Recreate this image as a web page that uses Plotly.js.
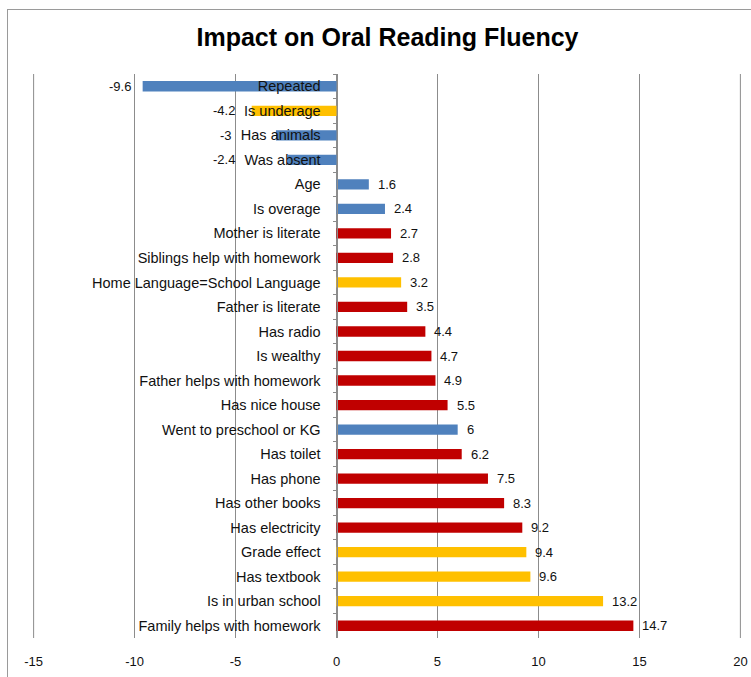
<!DOCTYPE html>
<html>
<head>
<meta charset="utf-8">
<script src="https://cdn.plot.ly/plotly-3.0.1.min.js"></script>
<style>
html,body{margin:0;padding:0;background:#fff;}
#chart{width:751px;height:677px;}
#frame{position:absolute;left:7px;top:9px;width:760px;height:700px;border-left:1px solid #9a9a9a;border-top:1px solid #9a9a9a;pointer-events:none;}
</style>
</head>
<body>
<div id="chart"></div>
<div id="frame"></div>
<script>
// Categories listed top to bottom
const categories = [
  "Repeated", "Is underage", "Has animals", "Was absent", "Age", "Is overage",
  "Mother is literate", "Siblings help with homework", "Home Language=School Language",
  "Father is literate", "Has radio", "Is wealthy", "Father helps with homework",
  "Has nice house", "Went to preschool or KG", "Has toilet", "Has phone",
  "Has other books", "Has electricity", "Grade effect", "Has textbook",
  "Is in urban school", "Family helps with homework"
];
const values = [
  -9.6, -4.2, -3, -2.4, 1.6, 2.4,
  2.7, 2.8, 3.2,
  3.5, 4.4, 4.7, 4.9,
  5.5, 6, 6.2, 7.5,
  8.3, 9.2, 9.4, 9.6,
  13.2, 14.7
];
const groups = [
  "blue", "gold", "blue", "blue", "blue", "blue",
  "red", "red", "gold",
  "red", "red", "red", "red",
  "red", "blue", "red", "red",
  "red", "red", "gold", "gold",
  "gold", "red"
];
const xTicks = [-15, -10, -5, 0, 5, 10, 15, 20];

const palette = {blue: "#4F81BD", gold: "#FFC000", red: "#C00000"};
const FONT = "Liberation Sans, Arial, sans-serif";
const CAT_SIZE = 14.5;
const VAL_SIZE = 13;
const GRID = "#8c8c8c";

const W = 751, H = 677;
const M = {l: 33, r: 10, t: 74, b: 39};
const xRange = [-15.03, 20.03];
const pxPerUnit = (W - M.l - M.r) / (xRange[1] - xRange[0]);
const labelGap = 16; // tick length + standoff

// measure category label widths so negative value labels avoid them
const ctx = document.createElement("canvas").getContext("2d");
ctx.font = CAT_SIZE + "px Liberation Sans";

const annotations = values.map((v, i) => {
  const base = {
    y: categories[i], xref: "x", yref: "y",
    text: String(v), showarrow: false,
    font: {family: FONT, size: VAL_SIZE, color: "#111"}
  };
  if (v >= 0) {
    return Object.assign(base, {x: v, xanchor: "left", xshift: 7});
  }
  const labelStart = -(labelGap + ctx.measureText(categories[i]).width); // px from zero
  const barEnd = v * pxPerUnit;
  if (barEnd < labelStart) {
    return Object.assign(base, {x: v, xanchor: "right", xshift: -10});
  }
  return Object.assign(base, {x: 0, xanchor: "right", xshift: labelStart - 7});
});

// edge gridlines (first and last tick) which Plotly skips at the plot border
const edgeGrid = [xTicks[0], xTicks[xTicks.length - 1]].map(t => ({
  type: "line", xref: "x", yref: "paper", x0: t, x1: t, y0: 0, y1: 1,
  line: {color: GRID, width: 1}, layer: "below"
}));

const trace = {
  type: "bar",
  orientation: "h",
  y: categories,
  x: values,
  marker: {color: groups.map(g => palette[g])},
  width: 0.42,
  hoverinfo: "x+y"
};

const layout = {
  width: W, height: H,
  margin: M,
  paper_bgcolor: "#fff", plot_bgcolor: "#fff",
  showlegend: false,
  title: {
    text: "<b>Impact on Oral Reading Fluency</b>",
    x: 0.516, xanchor: "center", y: 0.945, yanchor: "middle",
    font: {family: FONT, size: 25, color: "#000"}
  },
  xaxis: {
    range: xRange,
    tickvals: xTicks,
    ticktext: xTicks.map(String),
    showgrid: true, gridcolor: GRID, gridwidth: 1,
    zeroline: false,
    showline: false,
    ticks: "",
    ticklabelstandoff: 14,
    tickfont: {family: FONT, size: 13, color: "#111"},
    fixedrange: true
  },
  yaxis: {
    type: "category",
    autorange: "reversed",
    anchor: "free",
    position: (0 - xRange[0]) / (xRange[1] - xRange[0]),
    showline: true, linecolor: GRID, linewidth: 1,
    showgrid: false, zeroline: false,
    ticks: "outside", ticklen: 4, tickcolor: GRID,
    tickson: "boundaries",
    ticklabelstandoff: 13,
    tickfont: {family: FONT, size: CAT_SIZE, color: "#111"},
    fixedrange: true
  },
  shapes: edgeGrid,
  annotations: annotations,
  bargap: 0.58
};

Plotly.newPlot("chart", [trace], layout, {displayModeBar: false, staticPlot: true});
</script>
</body>
</html>
